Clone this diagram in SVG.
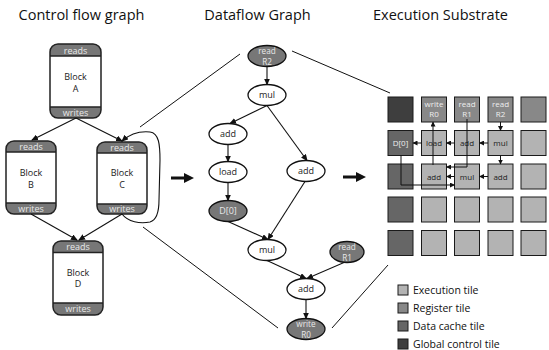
<svg xmlns="http://www.w3.org/2000/svg" width="549" height="350" viewBox="0 0 549 350">
<defs>
<style>
.title{font-family:"Open Sans","Liberation Sans",sans-serif;font-size:14.5px;fill:#111;text-anchor:middle}
.lbl{font-family:"Open Sans","Liberation Sans",sans-serif;font-size:9px;fill:#222;text-anchor:middle}
.wl{font-family:"Open Sans","Liberation Sans",sans-serif;font-size:9px;fill:#e8e8e8;text-anchor:middle}
.w2{font-family:"Open Sans","Liberation Sans",sans-serif;font-size:8.2px;fill:#e8e8e8;text-anchor:middle}
.tl{font-family:"Open Sans","Liberation Sans",sans-serif;font-size:8px;fill:#222;text-anchor:middle}
.tw{font-family:"Open Sans","Liberation Sans",sans-serif;font-size:8px;fill:#eee;text-anchor:middle}
.leg{font-family:"Open Sans","Liberation Sans",sans-serif;font-size:10.5px;fill:#111}
.edge{fill:none;stroke:#111;stroke-width:1.1}
.thin{fill:none;stroke:#111;stroke-width:1}
.en{fill:#fff;stroke:#111;stroke-width:1.3}
.eg{fill:#777;stroke:#111;stroke-width:1.3}
.gc{fill:#3e3e3e;stroke:#1a1a1a;stroke-width:1}
.dc{fill:#666;stroke:#1a1a1a;stroke-width:1}
.rg{fill:#888;stroke:#1a1a1a;stroke-width:1}
.ex{fill:#b3b3b3;stroke:#1a1a1a;stroke-width:1}
.bk{fill:#777}
.bw{fill:#fff}
.bo{fill:none;stroke:#222;stroke-width:1.5}
</style>
<marker id="ah" markerWidth="7" markerHeight="6" refX="6" refY="3" orient="auto" markerUnits="userSpaceOnUse">
<path d="M0,0 L7,3 L0,6 z" fill="#111"/>
</marker>
<marker id="ahs" markerWidth="5" markerHeight="5" refX="4.5" refY="2.5" orient="auto" markerUnits="userSpaceOnUse">
<path d="M0,0 L5,2.5 L0,5 z" fill="#111"/>
</marker>
<marker id="big" markerWidth="10" markerHeight="10" refX="3" refY="5" orient="auto" markerUnits="userSpaceOnUse">
<path d="M0,0 L10,5 L0,10 z" fill="#111"/>
</marker>
</defs>
<rect width="549" height="350" fill="#fff"/>

<text class="title" x="81.5" y="20">Control flow graph</text>
<text class="title" x="257.5" y="20">Dataflow Graph</text>
<text class="title" x="440.5" y="20">Execution Substrate</text>

<!-- CFG blocks -->
<g id="blockA">
<rect class="bk" x="50" y="44" width="51" height="74" rx="8"/>
<rect class="bw" x="50" y="56" width="51" height="51"/>
<rect class="bo" x="50" y="44" width="51" height="74" rx="8"/>
<line class="bo" x1="50" y1="56" x2="101" y2="56"/><line class="bo" x1="50" y1="107" x2="101" y2="107"/>
<text class="wl" x="75.5" y="53.5">reads</text>
<text class="lbl" x="75.5" y="80"><tspan x="75.5">Block</tspan><tspan x="75.5" dy="11.5">A</tspan></text>
<text class="wl" x="75.5" y="115.5">writes</text>
</g>
<g id="blockB">
<rect class="bk" x="6" y="141" width="50" height="73" rx="8"/>
<rect class="bw" x="6" y="152" width="50" height="51"/>
<rect class="bo" x="6" y="141" width="50" height="73" rx="8"/>
<line class="bo" x1="6" y1="152" x2="56" y2="152"/><line class="bo" x1="6" y1="203" x2="56" y2="203"/>
<text class="wl" x="31" y="149.5">reads</text>
<text class="lbl" x="31" y="176"><tspan x="31">Block</tspan><tspan x="31" dy="11.5">B</tspan></text>
<text class="wl" x="31" y="211.5">writes</text>
</g>
<g id="blockC">
<rect class="bk" x="97" y="142" width="50" height="72" rx="8"/>
<rect class="bw" x="97" y="153" width="50" height="51"/>
<rect class="bo" x="97" y="142" width="50" height="72" rx="8"/>
<line class="bo" x1="97" y1="153" x2="147" y2="153"/><line class="bo" x1="97" y1="204" x2="147" y2="204"/>
<text class="wl" x="122" y="150.5">reads</text>
<text class="lbl" x="122" y="176"><tspan x="122">Block</tspan><tspan x="122" dy="11.5">C</tspan></text>
<text class="wl" x="122" y="212">writes</text>
</g>
<g id="blockD">
<rect class="bk" x="53" y="241" width="50" height="74" rx="8"/>
<rect class="bw" x="53" y="252.5" width="50" height="50.5"/>
<rect class="bo" x="53" y="241" width="50" height="74" rx="8"/>
<line class="bo" x1="53" y1="252.5" x2="103" y2="252.5"/><line class="bo" x1="53" y1="303" x2="103" y2="303"/>
<text class="wl" x="78" y="250">reads</text>
<text class="lbl" x="78" y="275.5"><tspan x="78">Block</tspan><tspan x="78" dy="11.5">D</tspan></text>
<text class="wl" x="78" y="312">writes</text>
</g>

<!-- DFG nodes -->
<g id="dR2"><ellipse class="eg" cx="267" cy="56" rx="19" ry="10.5"/><text class="w2" x="267" y="53.5"><tspan x="267">read</tspan><tspan x="267" dy="11.5">R2</tspan></text></g>
<g id="dMul1"><ellipse class="en" cx="267" cy="95" rx="19" ry="10.5"/><text class="lbl" x="267" y="98">mul</text></g>
<g id="dAdd1"><ellipse class="en" cx="228" cy="134" rx="19" ry="10.5"/><text class="lbl" x="228" y="137">add</text></g>
<g id="dLoad"><ellipse class="en" cx="228" cy="172" rx="19" ry="10.5"/><text class="lbl" x="228" y="175">load</text></g>
<g id="dAdd2"><ellipse class="en" cx="306" cy="171" rx="19" ry="10.5"/><text class="lbl" x="306" y="174">add</text></g>
<g id="dD0"><ellipse class="eg" cx="228" cy="211" rx="19" ry="10.5"/><text class="wl" x="228" y="214">D[0]</text></g>
<g id="dMul2"><ellipse class="en" cx="267" cy="250" rx="19" ry="10.5"/><text class="lbl" x="267" y="253">mul</text></g>
<g id="dR1"><ellipse class="eg" cx="347" cy="252" rx="17" ry="10.5"/><text class="w2" x="347" y="249.5"><tspan x="347">read</tspan><tspan x="347" dy="11.5">R1</tspan></text></g>
<g id="dAdd3"><ellipse class="en" cx="306" cy="289" rx="19" ry="10.5"/><text class="lbl" x="306" y="292">add</text></g>
<g id="dR0"><ellipse class="eg" cx="306" cy="329" rx="19" ry="10.5"/><text class="w2" x="306" y="326.5"><tspan x="306">write</tspan><tspan x="306" dy="11.5">R0</tspan></text></g>

<!-- Grid tiles -->
<g id="grid">
<rect class="gc" x="388" y="97" width="25" height="25"/>
<rect class="rg" x="421.5" y="97" width="25" height="25"/>
<rect class="rg" x="454.5" y="97" width="25" height="25"/>
<rect class="rg" x="488" y="97" width="25" height="25"/>
<rect class="rg" x="521" y="97" width="25" height="25"/>
<rect class="dc" x="388" y="130.5" width="25" height="25"/>
<rect class="ex" x="421.5" y="130.5" width="25" height="25"/>
<rect class="ex" x="454.5" y="130.5" width="25" height="25"/>
<rect class="ex" x="488" y="130.5" width="25" height="25"/>
<rect class="ex" x="521" y="130.5" width="25" height="25"/>
<rect class="dc" x="388" y="164" width="25" height="25"/>
<rect class="ex" x="421.5" y="164" width="25" height="25"/>
<rect class="ex" x="454.5" y="164" width="25" height="25"/>
<rect class="ex" x="488" y="164" width="25" height="25"/>
<rect class="ex" x="521" y="164" width="25" height="25"/>
<rect class="dc" x="388" y="197" width="25" height="25"/>
<rect class="ex" x="421.5" y="197" width="25" height="25"/>
<rect class="ex" x="454.5" y="197" width="25" height="25"/>
<rect class="ex" x="488" y="197" width="25" height="25"/>
<rect class="ex" x="521" y="197" width="25" height="25"/>
<rect class="dc" x="388" y="230.5" width="25" height="25"/>
<rect class="ex" x="421.5" y="230.5" width="25" height="25"/>
<rect class="ex" x="454.5" y="230.5" width="25" height="25"/>
<rect class="ex" x="488" y="230.5" width="25" height="25"/>
<rect class="ex" x="521" y="230.5" width="25" height="25"/>
<text class="tw" x="434" y="107"><tspan x="434">write</tspan><tspan x="434" dy="10">R0</tspan></text>
<text class="tw" x="467" y="107"><tspan x="467">read</tspan><tspan x="467" dy="10">R1</tspan></text>
<text class="tw" x="500.5" y="107"><tspan x="500.5">read</tspan><tspan x="500.5" dy="10">R2</tspan></text>
<text class="tw" x="400.5" y="146">D[0]</text>
<text class="tl" x="434" y="146">load</text>
<text class="tl" x="467" y="146">add</text>
<text class="tl" x="500.5" y="146">mul</text>
<text class="tl" x="434" y="179.5">add</text>
<text class="tl" x="467" y="179.5">mul</text>
<text class="tl" x="500.5" y="179.5">add</text>
</g>

<!-- Legend -->
<g id="legend">
<rect class="ex" x="398" y="285" width="10" height="10"/><text class="leg" x="413" y="294">Execution tile</text>
<rect class="rg" x="398" y="303" width="10" height="10"/><text class="leg" x="413" y="312">Register tile</text>
<rect class="dc" x="398" y="321" width="10" height="10"/><text class="leg" x="413" y="330">Data cache tile</text>
<rect class="gc" x="398" y="339" width="10" height="10"/><text class="leg" x="413" y="348">Global control tile</text>
</g>

<g id="connectors">
<!-- CFG -->
<line class="edge" x1="76" y1="118" x2="32" y2="140" marker-end="url(#ah)"/>
<line class="edge" x1="76" y1="118" x2="122" y2="141" marker-end="url(#ah)"/>
<line class="edge" x1="31" y1="214" x2="77" y2="240" marker-end="url(#ah)"/>
<line class="edge" x1="122" y1="214" x2="79" y2="240" marker-end="url(#ah)"/>
<path class="edge" d="M122,214 C128,222 140,224 150,222 C157,220 159,212 159,200 L160,160 C160,145 159,133 150,132 C140,131 130,134 122,141" marker-end="url(#ah)"/>
<!-- thick arrows -->
<line x1="171" y1="178" x2="187" y2="178" stroke="#111" stroke-width="3" marker-end="url(#big)"/>
<line x1="343" y1="177" x2="359" y2="177" stroke="#111" stroke-width="3" marker-end="url(#big)"/>
<!-- projection lines -->
<line class="thin" x1="140" y1="127" x2="240" y2="54"/>
<line class="thin" x1="143" y1="227" x2="278" y2="328"/>
<line class="thin" x1="292" y1="51" x2="390" y2="93"/>
<line class="thin" x1="332" y1="328" x2="388" y2="265"/>
<!-- DFG -->
<line class="edge" x1="267" y1="66.5" x2="267" y2="84.5" marker-end="url(#ah)"/>
<line class="edge" x1="267" y1="105.5" x2="230" y2="123.5" marker-end="url(#ah)"/>
<line class="edge" x1="267" y1="105.5" x2="307" y2="160.5" marker-end="url(#ah)"/>
<line class="edge" x1="228" y1="144.5" x2="228" y2="161.5" marker-end="url(#ah)"/>
<line class="edge" x1="228" y1="182.5" x2="228" y2="200.5" marker-end="url(#ah)"/>
<line class="edge" x1="228" y1="221.5" x2="268" y2="239.5" marker-end="url(#ah)"/>
<line class="edge" x1="305" y1="181.5" x2="268" y2="239.5" marker-end="url(#ah)"/>
<line class="edge" x1="267" y1="260.5" x2="306" y2="278.5" marker-end="url(#ah)"/>
<line class="edge" x1="344" y1="262.5" x2="307" y2="278.5" marker-end="url(#ah)"/>
<line class="edge" x1="306" y1="299.5" x2="306" y2="318.5" marker-end="url(#ah)"/>
<!-- Grid -->
<line class="thin" x1="500.5" y1="122" x2="500.5" y2="130.5" marker-end="url(#ahs)"/>
<line class="thin" x1="500.5" y1="155.5" x2="500.5" y2="164" marker-end="url(#ahs)"/>
<line class="thin" x1="488" y1="143" x2="479.5" y2="143" marker-end="url(#ahs)"/>
<line class="thin" x1="454.5" y1="143" x2="446.5" y2="143" marker-end="url(#ahs)"/>
<line class="thin" x1="421.5" y1="143" x2="413" y2="143" marker-end="url(#ahs)"/>
<line class="thin" x1="488" y1="176.5" x2="479.5" y2="176.5" marker-end="url(#ahs)"/>
<line class="thin" x1="454.5" y1="176.5" x2="446.5" y2="176.5" marker-end="url(#ahs)"/>
<path class="thin" d="M467,119 V167 H446.5" marker-end="url(#ahs)"/>
<path class="thin" d="M433,165 V122" marker-end="url(#ahs)"/>
<path class="thin" d="M401,155.5 V185 H454.5" marker-end="url(#ahs)"/>
</g>
</svg>
